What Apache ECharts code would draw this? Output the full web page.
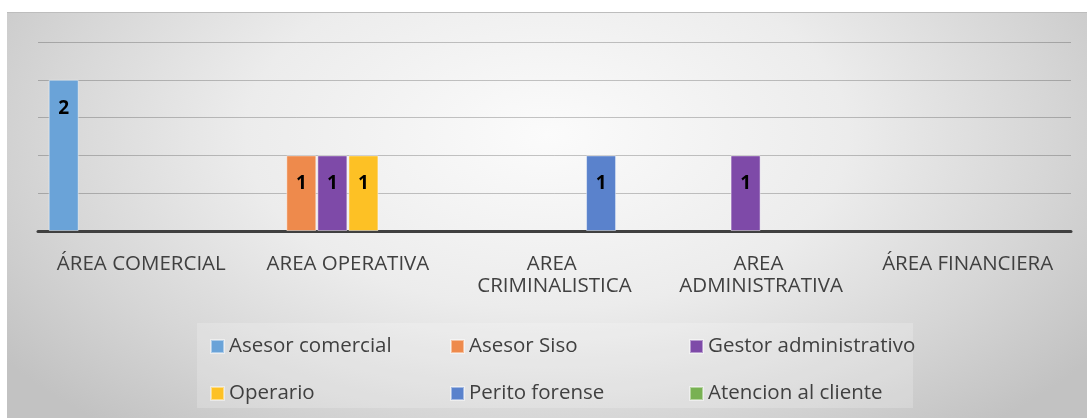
<!DOCTYPE html>
<html>
<head>
<meta charset="utf-8">
<script src="https://cdn.jsdelivr.net/npm/echarts@6/dist/echarts.min.js"></script>
<style>
  html, body { margin: 0; padding: 0; background: #ffffff; }
  #card {
    position: absolute; left: 7px; top: 12px; width: 1080px; height: 406px;
    background: radial-gradient(ellipse 62% 95% at 50% 30%, #fbfbfb 0%, #ececec 45%, #d6d6d6 75%, #c2c2c2 100%);
    border-top: 1px solid #bdbdbd;
  }
  #chart { position: absolute; left: 0; top: 0; width: 1087px; height: 418px; }
</style>
</head>
<body>
<div id="card"></div>
<div id="chart"></div>
<script>
const categories = ['ÁREA COMERCIAL', 'AREA OPERATIVA', 'AREA CRIMINALISTICA', 'AREA ADMINISTRATIVA', 'ÁREA FINANCIERA'];
const seriesNames = ['Asesor comercial', 'Asesor Siso', 'Gestor administrativo', 'Operario', 'Perito forense', 'Atencion al cliente'];
const asesorComercial     = [2, null, null, null, null];
const asesorSiso          = [null, 1, null, null, null];
const gestorAdministrativo= [null, 1, null, 1, null];
const operario            = [null, 1, null, null, null];
const peritoForense       = [null, null, 1, null, null];
const atencionCliente     = [null, null, null, null, null];
const yTicks = [0, 0.5, 1, 1.5, 2, 2.5];

const seriesData = [asesorComercial, asesorSiso, gestorAdministrativo, operario, peritoForense, atencionCliente];
const colors = ['#6aa3d8', '#ee8a4c', '#7e4aa8', '#fdc125', '#5a82cc', '#78b153'];

const chart = echarts.init(document.getElementById('chart'), null, { renderer: 'canvas' });

const font = '"Open Sans", "DejaVu Sans", sans-serif';

const series = seriesNames.map((name, i) => ({
  name: name,
  type: 'bar',
  data: seriesData[i],
  barWidth: 30,
  barGap: '3.5%',
  itemStyle: { color: colors[i], borderColor: 'rgba(255,255,255,0.45)', borderWidth: 1 },
  label: {
    show: true,
    position: 'insideTop',
    distance: 19,
    color: '#000000',
    fontWeight: 'bold',
    fontSize: 19,
    fontFamily: font
  }
}));

const legendCommon = {
  orient: 'vertical',
  top: 331,
  icon: 'rect',
  itemWidth: 13,
  itemHeight: 13,
  itemGap: 26,
  selectedMode: false,
  textStyle: { color: '#404040', fontSize: 20.5, fontFamily: font, lineHeight: 20 }
};

chart.setOption({
  animation: false,
  color: colors,
  grid: { left: 38, right: 16, top: 42, bottom: 187, containLabel: false },
  graphic: [{
    type: 'rect',
    z: -10,
    shape: { x: 197, y: 323, width: 716, height: 85 },
    style: { fill: 'rgba(255,255,255,0.2)' },
    silent: true
  }],
  legend: [
    Object.assign({}, legendCommon, { left: 205, data: [seriesNames[0], seriesNames[3]] }),
    Object.assign({}, legendCommon, { left: 445, data: [seriesNames[1], seriesNames[4]] }),
    Object.assign({}, legendCommon, { left: 684, data: [seriesNames[2], seriesNames[5]] })
  ],
  xAxis: {
    type: 'category',
    data: categories,
    axisLine: { show: true, lineStyle: { color: '#404040', width: 3 } },
    axisTick: { show: false },
    axisLabel: {
      color: '#404040',
      fontSize: 20.5,
      fontFamily: font,
      margin: 22,
      lineHeight: 22,
      width: 192,
      overflow: 'break',
      interval: 0
    }
  },
  yAxis: {
    type: 'value',
    min: yTicks[0],
    max: yTicks[yTicks.length - 1],
    interval: 0.5,
    axisLabel: { show: false },
    axisLine: { show: false },
    axisTick: { show: false },
    splitLine: { show: true, lineStyle: { color: 'rgba(0,0,0,0.22)', width: 1 } }
  },
  series: series
});
</script>
</body>
</html>
